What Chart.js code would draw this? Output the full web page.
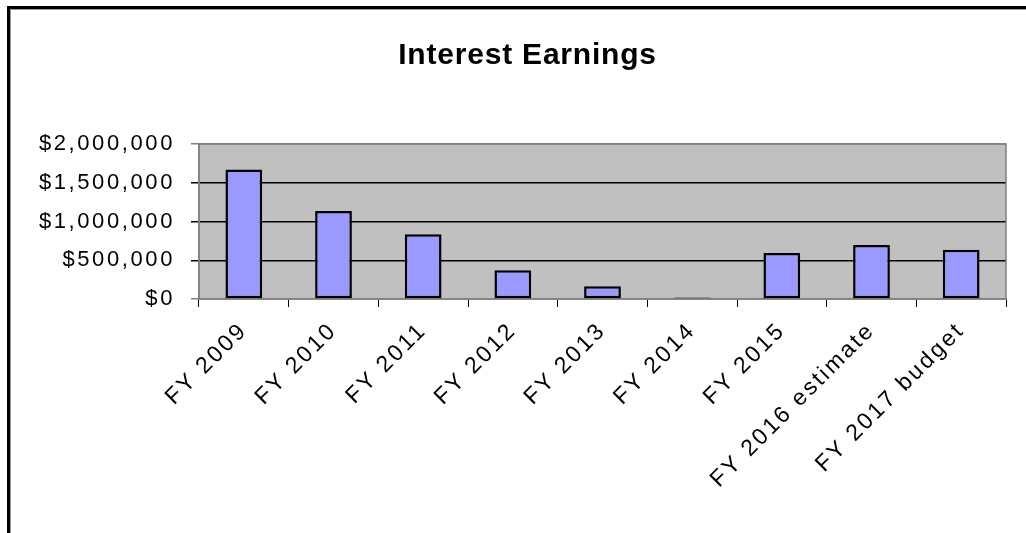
<head>
    <title>Interest Earnings</title>
    <script src="https://cdn.jsdelivr.net/npm/chart.js"></script>
</head>
<body>
    <div id="frame"></div>
    <canvas id="chart" width="1026" height="533"></canvas>

    <script>
      // data
      const years = ['FY 2009', 'FY 2010', 'FY 2011', 'FY 2012', 'FY 2013', 'FY 2014', 'FY 2015', 'FY 2016 estimate', 'FY 2017 budget'];
      const earnings = [1672000, 1135000, 835000, 371000, 165000, 20000, 594000, 697000, 637000];
      const yMin = 0;
      const yMax = 2000000;
      const yStep = 500000;

      const plotBg = {
        id: 'plotBg',
        // the original chart is cropped on the right, so its title sits right of centre
        afterLayout(chart) {
          if (chart.titleBlock) chart.titleBlock.left = 49;
        },
        beforeDraw(chart) {
          const { ctx, chartArea: a } = chart;
          ctx.letterSpacing = '0.8px';
          ctx.save();
          ctx.fillStyle = '#c0c0c0';
          ctx.fillRect(a.left, a.top, a.right - a.left, a.bottom - a.top);
          ctx.restore();
        },
        beforeDatasetsDraw(chart) {
          const { ctx, chartArea: a } = chart;
          ctx.save();
          ctx.strokeStyle = '#808080';
          ctx.lineWidth = 1.5;
          ctx.strokeRect(a.left, a.top, a.right - a.left, a.bottom - a.top);
          ctx.restore();
        },
        // tick labels are drawn after the bars (z: 1), widen them a bit like the original
        afterDatasetsDraw(chart) {
          chart.ctx.letterSpacing = '2.6px';
        },
        afterDraw(chart) {
          chart.ctx.letterSpacing = '0px';
        }
      };

      const ctx = document.getElementById('chart').getContext('2d');
      const chart = new Chart(ctx, {
        type: 'bar',
        data: {
          labels: years,
          datasets: [{
            label: 'Interest Earnings',
            data: earnings,
            backgroundColor: '#9999ff',
            borderColor: '#000000',
            borderWidth: 2.5,
            borderSkipped: false,
            barPercentage: 0.41,
            categoryPercentage: 1
          }]
        },
        options: {
          responsive: false,
          animation: false,
          layout: { padding: { left: 0, right: 20, top: 0, bottom: 0 } },
          plugins: {
            legend: { display: false },
            tooltip: { enabled: false },
            title: {
              display: true,
              text: 'Interest Earnings',
              color: '#000',
              font: { family: "'Liberation Sans', Arial, sans-serif", size: 30, weight: 'bold' },
              padding: { top: 38, bottom: 70 }
            }
          },
          scales: {
            x: {
              afterFit(scale) { scale.height = 234; },
              grid: { drawOnChartArea: false, color: '#000', tickLength: 8, offset: true },
              border: { color: '#808080', width: 1.5 },
              ticks: {
                z: 1,
                color: '#000',
                minRotation: 45,
                maxRotation: 45,
                padding: 10,
                font: { family: "'Liberation Sans', Arial, sans-serif", size: 23 }
              }
            },
            y: {
              min: yMin,
              max: yMax,
              afterFit(scale) { scale.width = 199; },
              grid: {
                color: c => (c.tick && (c.tick.value === yMin || c.tick.value === yMax)) ? '#808080' : '#000',
                lineWidth: 1.5,
                tickLength: 8
              },
              border: { color: '#808080', width: 1.5 },
              ticks: {
                z: 1,
                stepSize: yStep,
                color: '#000',
                padding: 16,
                font: { family: "'Liberation Sans', Arial, sans-serif", size: 22 },
                callback: v => '$' + Number(v).toLocaleString('en-US')
              }
            }
          }
        },
        plugins: [plotBg]
      });
    </script>

    <style>
      body {
        margin: 0;
        background-color: #ffffff;
        overflow: hidden;
      }

      #frame {
        position: absolute;
        left: 7px;
        top: 6px;
        width: 1100px;
        height: 600px;
        border-top: 3px solid #000;
        border-left: 3px solid #000;
        box-shadow: inset 1px 1px 0 #999;
      }

      canvas {
        position: absolute;
        left: 0;
        top: 0;
      }
    </style>
</body>
